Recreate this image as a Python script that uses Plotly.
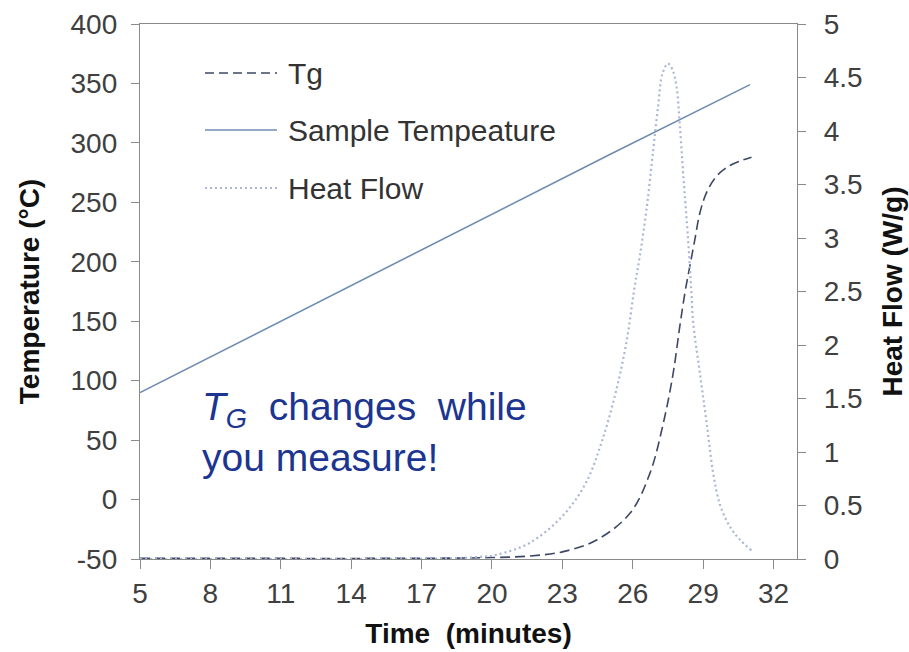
import plotly.graph_objects as go

# ---- data ----
series_names = ["Tg", "Sample Tempeature", "Heat Flow"]

tg_time = [5, 10, 15, 18, 20, 21.6, 23.04, 24.46, 25.88, 26.73, 27.3, 27.72, 28.0,
           28.22, 28.43, 28.64, 28.86, 29.14, 29.57, 30.14, 30.6, 31.06]
tg_temp = [-49.5, -49.5, -49.5, -49.3, -48.8, -47.5, -43.8, -34, -11.6, 22, 64, 106, 145,
           173.5, 196, 218, 241, 258, 272, 281, 285, 288]

sample_time = [5, 10, 15, 20, 25, 31]
sample_temp = [90, 140, 190, 240, 290, 349]

hf_time = [5, 10, 15, 18, 19.5, 20.2, 21.6, 23.0, 24.0, 24.7, 25.3, 25.75, 26.05, 26.3,
           26.6, 26.87, 27.08, 27.27, 27.5, 27.7, 27.87, 28.0, 28.15, 28.36, 28.5, 28.58,
           28.86, 29.15, 29.43, 29.7, 30.0, 30.27, 30.57, 31.06]
hf_value = [0.0, 0.0, 0.0, 0.005, 0.02, 0.04, 0.15, 0.40, 0.71, 1.11, 1.58, 2.05, 2.50, 2.83,
            3.29, 3.82, 4.23, 4.54, 4.63, 4.57, 4.41, 4.07, 3.60, 2.98, 2.49, 2.20,
            1.74, 1.27, 0.80, 0.52, 0.36, 0.26, 0.18, 0.08]

x_ticks = [5, 8, 11, 14, 17, 20, 23, 26, 29, 32]
y_ticks = [-50, 0, 50, 100, 150, 200, 250, 300, 350, 400]
y_tick_text = ["-50", "0", "50", "100", "150", "200", "250", "300", "350", "400"]
y2_ticks = [0, 0.5, 1, 1.5, 2, 2.5, 3, 3.5, 4, 4.5, 5]
y2_tick_text = ["0", "0.5", "1", "1.5", "2", "2.5", "3", "3.5", "4", "4.5", "5"]

note_text = "<i>T<sub>G</sub></i>&nbsp; changes&nbsp; while<br>you measure!"

# ---- styles ----
c_tg = "#3d4865"
c_sample = "#6f8cb2"
c_hf = "#aab6d6"
tick_color = "#404040"
axis_color = "#8a8a8a"
FONT = "Liberation Sans, Arial, sans-serif"

fig = go.Figure()
fig.add_trace(go.Scatter(x=tg_time, y=tg_temp, name=series_names[0], mode="lines",
                         line=dict(color=c_tg, width=1.6, dash="10px,5px", shape="spline"),
                         yaxis="y"))
fig.add_trace(go.Scatter(x=sample_time, y=sample_temp, name=series_names[1], mode="lines",
                         line=dict(color=c_sample, width=1.6), yaxis="y"))
fig.add_trace(go.Scatter(x=hf_time, y=hf_value, name=series_names[2], mode="lines",
                         line=dict(color=c_hf, width=2.2, dash="2px,3px", shape="spline"),
                         yaxis="y2"))

W, H = 909, 652
ml, mr, mt, mb = 140, 112, 24, 93
pw, ph = W - ml - mr, H - mt - mb

def px(x):
    return (x - ml) / pw

def py(y):
    return (H - mb - y) / ph

# manual legend (long line samples like the reference)
shapes = []
annotations = []
legend_rows = [(73, c_tg, "9px,5px", 1.6), (130, c_sample, "solid", 1.6), (188, c_hf, "2px,3px", 2.2)]
for name, (yy, col, dash, w) in zip(series_names, legend_rows):
    shapes.append(dict(type="line", xref="paper", yref="paper",
                       x0=px(205), x1=px(277), y0=py(yy), y1=py(yy),
                       line=dict(color=col, width=w, dash=dash)))
    annotations.append(dict(xref="paper", yref="paper", x=px(286), y=py(yy),
                            xanchor="left", yanchor="middle", text=name, showarrow=False,
                            font=dict(family=FONT, size=30, color="#333333")))

annotations.append(dict(xref="paper", yref="paper", x=px(200), y=py(432),
                        xanchor="left", yanchor="middle", text=note_text,
                        showarrow=False, align="left",
                        font=dict(family=FONT, size=39, color="#1c3591")))

fig.update_layout(
    width=W, height=H,
    margin=dict(l=ml, r=mr, t=mt, b=mb, pad=0),
    paper_bgcolor="white", plot_bgcolor="white",
    showlegend=False,
    font=dict(family=FONT, color=tick_color),
    shapes=shapes, annotations=annotations,
    xaxis=dict(range=[5, 33], tickvals=x_ticks, ticks="outside", ticklen=9,
               tickcolor=axis_color, showline=True, linecolor=axis_color, linewidth=1.3,
               mirror=True, showgrid=False, zeroline=False, automargin=False,
               tickfont=dict(size=28, color=tick_color), ticklabelstandoff=0,
               title=dict(text="<b>Time&nbsp; (minutes)</b>", standoff=15,
                          font=dict(size=28, color="#111111"))),
    yaxis=dict(range=[-50, 400], tickvals=y_ticks, ticktext=y_tick_text, ticks="outside",
               ticklen=8, tickcolor=axis_color, showline=True, linecolor=axis_color,
               linewidth=1.3, showgrid=False, zeroline=False, automargin=False,
               tickfont=dict(size=28, color=tick_color), ticklabelstandoff=8,
               title=dict(text="<b>Temperature (°C)</b>", standoff=22,
                          font=dict(size=28, color="#111111"))),
    yaxis2=dict(range=[0, 5], tickvals=y2_ticks, ticktext=y2_tick_text, overlaying="y",
                side="right", ticks="outside", ticklen=8, tickcolor=axis_color, showline=True,
                linecolor=axis_color, linewidth=1.3, showgrid=False, zeroline=False,
                automargin=False, tickfont=dict(size=28, color=tick_color),
                ticklabelstandoff=12,
                title=dict(text="<b>Heat Flow (W/g)</b>", standoff=20,
                           font=dict(size=28, color="#111111"))),
)

fig.write_html("out.html")
